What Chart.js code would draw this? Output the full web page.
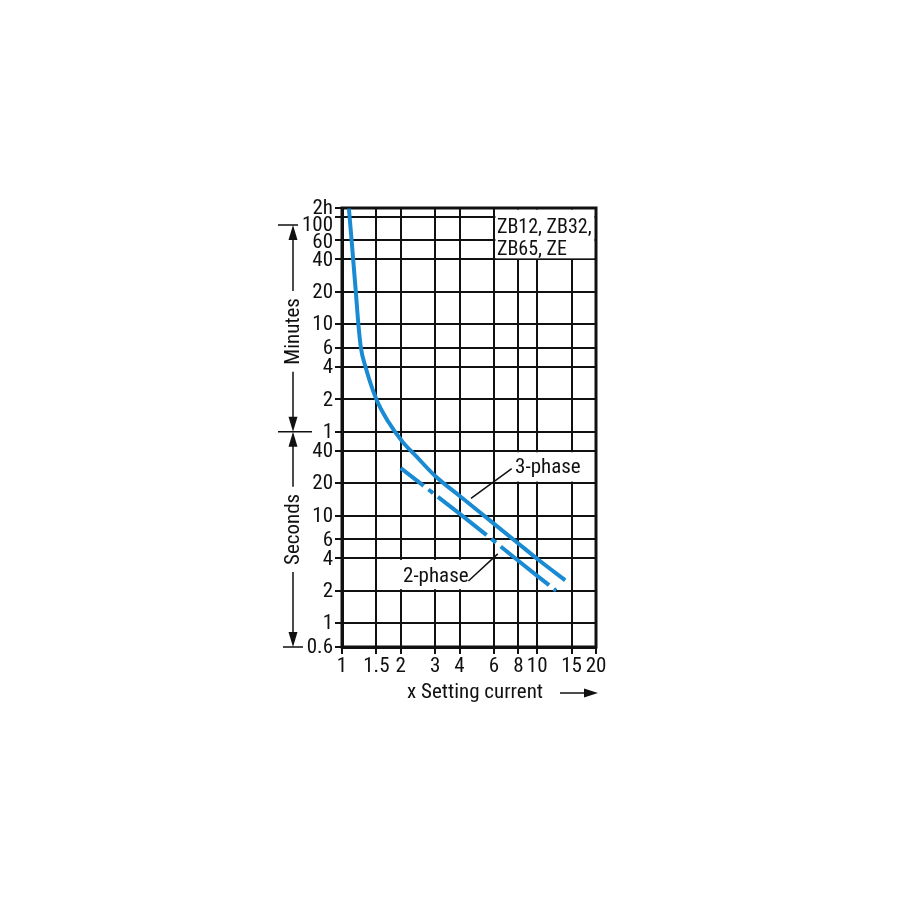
<!DOCTYPE html>
<html>
<head>
<meta charset="utf-8">
<script src="https://cdn.jsdelivr.net/npm/chart.js@4.4.1/dist/chart.umd.min.js"></script>
<style>
    html, body { margin: 0; padding: 0; background: #fff; }
    #wrap { width: 900px; height: 900px; }
</style>
</head>
<body>
<div id="wrap"><canvas id="tripChart" width="900" height="900"></canvas></div>
<script>
// --- data (x = multiple of setting current, y = seconds) ---
const xTicks = [1, 1.5, 2, 3, 4, 6, 8, 10, 15, 20];
const yTicks = [7200, 6000, 3600, 2400, 1200, 600, 360, 240, 120, 60, 40, 20, 10, 6, 4, 2, 1, 0.6];
const yLabels = ['2h', '100', '60', '40', '20', '10', '6', '4', '2', '1', '40', '20', '10', '6', '4', '2', '1', '0.6'];

const threePhaseX = [1.085, 1.127, 1.177, 1.213, 1.25, 1.32, 1.5, 1.72, 2.05, 2.37, 3, 3.95, 5.95, 8, 10.1, 13.9];
const threePhaseY = [7100, 3140, 1200, 600, 360, 240, 120, 75, 48, 36.4, 23.3, 15.5, 8.5, 5.5, 3.9, 2.5];

const twoPhaseX = [2, 4, 6, 8, 10, 12.5];
const twoPhaseY = [27.6, 10.4, 5.8, 3.8, 2.75, 2.0];

const BLUE = '#1a8bd3';
const INK = '#111';
const FONT = "'Roboto Condensed', 'DejaVu Sans Condensed', sans-serif";
const FSIZE = 21;

function arrowHead(ctx, x, tipY, dir) {
    // dir = -1 points up, 1 points down
    ctx.beginPath();
    ctx.moveTo(x, tipY);
    ctx.lineTo(x - 4.5, tipY - dir * 15);
    ctx.lineTo(x + 4.5, tipY - dir * 15);
    ctx.closePath();
    ctx.fill();
}

const overlay = {
    id: 'overlay',
    beforeDatasetsDraw(chart) {
        const { ctx, chartArea: a, scales: { x, y } } = chart;
        ctx.save();
        ctx.fillStyle = '#fff';

        // box with device names (top right) hides the grid
        const bx = x.getPixelForValue(6);
        const by = y.getPixelForValue(2400);
        ctx.fillRect(bx + 1.5, a.top + 1.5, a.right - bx - 3, by - a.top - 2.5);

        // backgrounds behind curve labels
        const r3x = x.getPixelForValue(7.3);
        ctx.fillRect(r3x, y.getPixelForValue(40) + 1.5, a.right - r3x - 1.5, y.getPixelForValue(20) - y.getPixelForValue(40) - 3);
        const r2x = x.getPixelForValue(1.86);
        ctx.fillRect(r2x, y.getPixelForValue(4) + 1.5, x.getPixelForValue(4.55) - r2x, y.getPixelForValue(2) - y.getPixelForValue(4) - 3);

        // frame
        ctx.strokeStyle = INK;
        ctx.lineWidth = 3;
        ctx.strokeRect(a.left, a.top, a.right - a.left, a.bottom - a.top);

        ctx.fillStyle = INK;
        ctx.font = '20px ' + FONT;
        ctx.textBaseline = 'middle';
        ctx.textAlign = 'left';
        ctx.fillText('ZB12, ZB32,', bx + 3, a.top + 20);
        ctx.fillText('ZB65, ZE', bx + 3, a.top + 42);

        // curve labels + leaders
        ctx.font = FSIZE + 'px ' + FONT;
        ctx.fillText('3-phase', x.getPixelForValue(7.7), (y.getPixelForValue(40) + y.getPixelForValue(20)) / 2 + 1);
        ctx.textAlign = 'right';
        ctx.fillText('2-phase', x.getPixelForValue(4.45), (y.getPixelForValue(4) + y.getPixelForValue(2)) / 2 + 2);

        ctx.lineWidth = 1.5;
        ctx.beginPath();
        ctx.moveTo(x.getPixelForValue(4.58), y.getPixelForValue(14.4));
        ctx.lineTo(x.getPixelForValue(7.4), y.getPixelForValue(27.3));
        ctx.moveTo(x.getPixelForValue(4.44), y.getPixelForValue(2.46));
        ctx.lineTo(x.getPixelForValue(6.28), y.getPixelForValue(4.4));
        ctx.stroke();
        ctx.restore();
    },
    afterDraw(chart) {
        const { ctx, chartArea: a, scales: { y } } = chart;
        ctx.save();
        ctx.fillStyle = INK;
        ctx.strokeStyle = INK;
        ctx.font = FSIZE + 'px ' + FONT;
        ctx.textAlign = 'right';
        ctx.textBaseline = 'middle';

        // y tick labels, pushed apart where the grid lines crowd
        const labelY = [];
        let prev = -Infinity;
        yTicks.forEach((v, i) => {
            const py = Math.max(y.getPixelForValue(v), prev + 17);
            labelY.push(py);
            prev = py;
            ctx.fillText(yLabels[i], a.left - 9, py + 1);
        });

        // Minutes / Seconds range markers
        const ax = a.left - 49;
        const yMin = labelY[1], yOne = labelY[9], yEnd = y.getPixelForValue(0.6);
        ctx.lineWidth = 1.5;
        ctx.beginPath();
        ctx.moveTo(ax - 15, yMin); ctx.lineTo(ax + 5, yMin);
        ctx.moveTo(ax - 15, yOne); ctx.lineTo(ax + 19, yOne);
        ctx.moveTo(ax - 10, yEnd); ctx.lineTo(ax + 10, yEnd);
        ctx.stroke();

        const drawRange = (top, bottom, text, mid) => {
            const half = ctx.measureText(text).width / 2 + 7;
            ctx.beginPath();
            ctx.moveTo(ax, top + 10); ctx.lineTo(ax, mid - half);
            ctx.moveTo(ax, mid + half); ctx.lineTo(ax, bottom - 10);
            ctx.stroke();
            arrowHead(ctx, ax, top, -1);
            arrowHead(ctx, ax, bottom, 1);
            ctx.save();
            ctx.translate(ax, mid);
            ctx.rotate(-Math.PI / 2);
            ctx.textAlign = 'center';
            ctx.fillText(text, 0, 1);
            ctx.restore();
        };
        drawRange(yMin, yOne, 'Minutes', (yMin + yOne) / 2 + 3);
        drawRange(yOne, yEnd, 'Seconds', (yOne + yEnd) / 2 - 10);

        // x axis title with arrow
        ctx.textAlign = 'center';
        ctx.fillText('x Setting current', a.left + 133, a.bottom + 46);
        ctx.beginPath();
        ctx.moveTo(a.right - 36, a.bottom + 46);
        ctx.lineTo(a.right - 8, a.bottom + 46);
        ctx.stroke();
        ctx.beginPath();
        ctx.moveTo(a.right + 2, a.bottom + 46);
        ctx.lineTo(a.right - 12, a.bottom + 41.5);
        ctx.lineTo(a.right - 12, a.bottom + 50.5);
        ctx.closePath();
        ctx.fill();
        ctx.restore();
    }
};

const ctx = document.getElementById('tripChart').getContext('2d');
new Chart(ctx, {
    type: 'scatter',
    data: {
        datasets: [{
            label: '3-phase',
            data: threePhaseX.map((v, i) => ({ x: v, y: threePhaseY[i] })),
            showLine: true,
            borderColor: BLUE,
            borderWidth: 4,
            pointRadius: 0,
            cubicInterpolationMode: 'monotone',
            fill: false
        }, {
            label: '2-phase',
            data: twoPhaseX.map((v, i) => ({ x: v, y: twoPhaseY[i] })),
            showLine: true,
            borderColor: BLUE,
            borderWidth: 4,
            borderDash: [62, 6, 6, 6],
            borderDashOffset: 33,
            pointRadius: 0,
            tension: 0,
            fill: false
        }]
    },
    options: {
        responsive: false,
        animation: false,
        layout: { padding: { left: 292, top: 208, right: 304, bottom: 223 } },
        plugins: { legend: { display: false }, tooltip: { enabled: false } },
        scales: {
            x: {
                type: 'logarithmic',
                min: 1,
                max: 20,
                afterBuildTicks: (s) => { s.ticks = xTicks.map(v => ({ value: v })); },
                afterFit: (s) => { s.height = 30; },
                ticks: {
                    autoSkip: false,
                    maxRotation: 0,
                    color: INK,
                    padding: 0,
                    font: { family: FONT, size: FSIZE },
                    callback: (v) => String(v)
                },
                grid: { color: INK, lineWidth: 2, tickLength: 7, tickColor: INK },
                border: { color: INK, width: 3 }
            },
            y: {
                type: 'logarithmic',
                min: 0.6,
                max: 7200,
                afterBuildTicks: (s) => { s.ticks = yTicks.map(v => ({ value: v })); },
                afterFit: (s) => { s.width = 50; },
                ticks: {
                    autoSkip: false,
                    color: 'rgba(0,0,0,0)',
                    font: { family: FONT, size: FSIZE },
                    callback: (v, i) => yLabels[i]
                },
                grid: { color: INK, lineWidth: 2, tickLength: 7, tickColor: INK },
                border: { color: INK, width: 3 }
            }
        }
    },
    plugins: [overlay]
});
</script>
</body>
</html>
